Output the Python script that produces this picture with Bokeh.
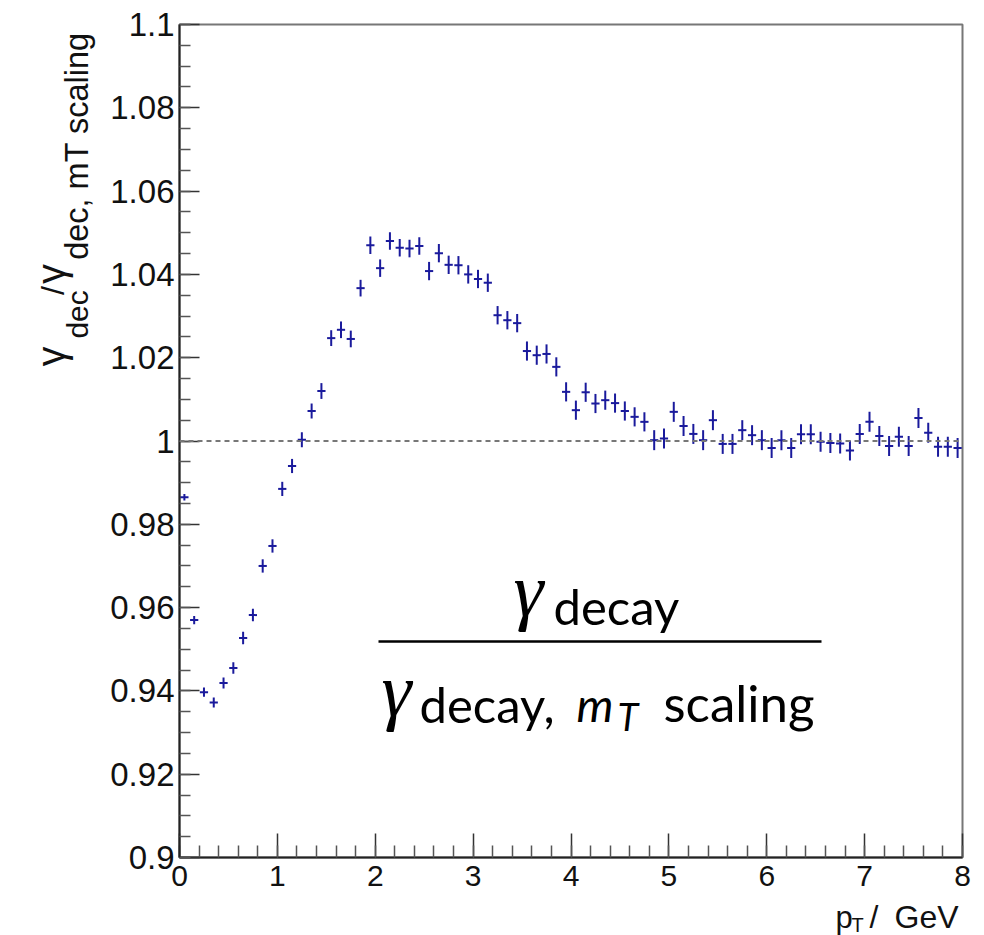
import numpy as np
from bokeh.plotting import figure
from bokeh.layouts import column, row
from bokeh.models import Range1d, FixedTicker, Span, Label
from bokeh.embed import file_html
from bokeh.resources import INLINE

# ---------------- data ----------------
pt_centers = [0.05, 0.15, 0.25, 0.35, 0.45, 0.55, 0.65, 0.75, 0.85, 0.95,
              1.05, 1.15, 1.25, 1.35, 1.45, 1.55, 1.65, 1.75, 1.85, 1.95,
              2.05, 2.15, 2.25, 2.35, 2.45, 2.55, 2.65, 2.75, 2.85, 2.95,
              3.05, 3.15, 3.25, 3.35, 3.45, 3.55, 3.65, 3.75, 3.85, 3.95,
              4.05, 4.15, 4.25, 4.35, 4.45, 4.55, 4.65, 4.75, 4.85, 4.95,
              5.05, 5.15, 5.25, 5.35, 5.45, 5.55, 5.65, 5.75, 5.85, 5.95,
              6.05, 6.15, 6.25, 6.35, 6.45, 6.55, 6.65, 6.75, 6.85, 6.95,
              7.05, 7.15, 7.25, 7.35, 7.45, 7.55, 7.65, 7.75, 7.85, 7.95]
ratio = [0.9865, 0.9570, 0.9397, 0.9372, 0.9419, 0.9455, 0.9527, 0.9582, 0.9700, 0.9748,
         0.9885, 0.9940, 1.0003, 1.0072, 1.0120, 1.0247, 1.0267, 1.0245, 1.0367, 1.0470,
         1.0415, 1.0480, 1.0464, 1.0462, 1.0468, 1.0408, 1.0451, 1.0423, 1.0422, 1.0400,
         1.0389, 1.0380, 1.0302, 1.0290, 1.0283, 1.0216, 1.0206, 1.0209, 1.0178, 1.0118,
         1.0074, 1.0117, 1.0090, 1.0098, 1.0091, 1.0072, 1.0058, 1.0046, 1.0002, 1.0006,
         1.0070, 1.0036, 1.0017, 1.0002, 1.0050, 0.9993, 0.9993, 1.0026, 1.0014, 1.0002,
         0.9983, 1.0002, 0.9983, 1.0016, 1.0016, 0.9998, 0.9995, 0.9994, 0.9977, 1.0017,
         1.0046, 1.0012, 0.9988, 1.0010, 0.9988, 1.0055, 1.0020, 0.9986, 0.9986, 0.9983]
ratio_err = [0.0008, 0.0010, 0.0011, 0.0012, 0.0013, 0.0014, 0.0015, 0.0015, 0.0016, 0.0016,
             0.0017, 0.0017, 0.0018, 0.0018, 0.0019, 0.0019, 0.0020, 0.0020, 0.0020, 0.0021,
             0.0021, 0.0021, 0.0021, 0.0021, 0.0021, 0.0022, 0.0022, 0.0022, 0.0022, 0.0022,
             0.0022, 0.0022, 0.0022, 0.0022, 0.0022, 0.0023, 0.0023, 0.0023, 0.0023, 0.0023,
             0.0023, 0.0023, 0.0023, 0.0023, 0.0023, 0.0023, 0.0023, 0.0023, 0.0024, 0.0024,
             0.0024, 0.0024, 0.0024, 0.0024, 0.0024, 0.0024, 0.0024, 0.0024, 0.0024, 0.0024,
             0.0024, 0.0024, 0.0024, 0.0024, 0.0024, 0.0024, 0.0024, 0.0024, 0.0024, 0.0024,
             0.0024, 0.0024, 0.0024, 0.0024, 0.0024, 0.0024, 0.0024, 0.0024, 0.0024, 0.0024]
bin_half_draw = 0.042
reference_level = 1.0

x_ticks = [0, 1, 2, 3, 4, 5, 6, 7, 8]
x_tick_labels = ["0", "1", "2", "3", "4", "5", "6", "7", "8"]
y_ticks = [0.9, 0.92, 0.94, 0.96, 0.98, 1.0, 1.02, 1.04, 1.06, 1.08, 1.1]
y_tick_labels = ["0.9", "0.92", "0.94", "0.96", "0.98", "1", "1.02", "1.04", "1.06", "1.08", "1.1"]

# ---------------- layout (page pixels) ----------------
PAGE_W, PAGE_H = 984, 935
LEFT_W = 100                 # strip holding the y-axis title
MAIN_H = 899                 # main figure height; below it the x-title strip
FL, FR, FT, FB = 179, 962, 24, 857   # frame edges on the page
X_MIN, X_MAX, Y_MIN, Y_MAX = 0.0, 8.0, 0.9, 1.1

def dx(px):
    return X_MIN + (px - FL) * (X_MAX - X_MIN) / (FR - FL)

def dy(py):
    return Y_MIN + (FB - py) * (Y_MAX - Y_MIN) / (FB - FT)

# half of (ascent - descent) in em: shift from baseline to a middle anchor
MID = {"Liberation Sans": 0.3465, "Lato": 0.387, "Liberation Serif": 0.3375}

p = figure(width=PAGE_W - LEFT_W, height=MAIN_H, output_backend="svg",
           toolbar_location=None,
           x_range=Range1d(X_MIN, X_MAX), y_range=Range1d(Y_MIN, Y_MAX),
           min_border_left=FL - LEFT_W, min_border_right=PAGE_W - FR,
           min_border_top=FT, min_border_bottom=MAIN_H - FB)
p.background_fill_color = "white"
p.border_fill_color = "white"
p.grid.visible = False
p.outline_line_color = "#777777"
p.outline_line_width = 2

TICK_FONT = "Liberation Sans"
for ax in (p.xaxis[0], p.yaxis[0]):
    ax.axis_line_color = "#222222"
    ax.axis_line_width = 2
    ax.major_tick_line_color = "#333333"
    ax.minor_tick_line_color = "#555555"
    ax.major_tick_line_width = 1.5
    ax.minor_tick_line_width = 1.5
    ax.major_tick_out = 0
    ax.minor_tick_out = 0
    ax.major_label_text_font = TICK_FONT
    ax.major_label_text_color = "#111111"

p.xaxis.ticker = FixedTicker(ticks=x_ticks,
                             minor_ticks=[t / 5 for t in range(0, 41)])
p.xaxis.major_label_overrides = {t: l for t, l in zip(x_ticks, x_tick_labels)}
p.xaxis.major_tick_in = 24
p.xaxis.minor_tick_in = 12
p.xaxis.major_label_standoff = 8
p.xaxis.major_label_text_font_size = "30px"

p.yaxis.ticker = FixedTicker(ticks=y_ticks,
                             minor_ticks=[0.9 + k * 0.005 for k in range(41)])
p.yaxis.major_label_overrides = {t: l for t, l in zip(y_ticks, y_tick_labels)}
p.yaxis.major_tick_in = 20
p.yaxis.minor_tick_in = 11
p.yaxis.major_label_standoff = 5
p.yaxis.major_label_text_font_size = "33px"

# reference line
p.add_layout(Span(location=reference_level, dimension="width",
                  line_color="#777777", line_width=1.8, line_dash="5 4"))

# error-bar crosses
x = np.array(pt_centers)
y = np.array(ratio)
e = np.array(ratio_err)
COL = "#1a1a9c"
p.segment(x0=x, y0=y - e, x1=x, y1=y + e, line_color=COL, line_width=2)
p.segment(x0=x - bin_half_draw, y0=y, x1=x + bin_half_draw, y1=y,
          line_color=COL, line_width=2)

# ---------------- text helpers ----------------
def hlabel(fig, txt, left_x, base_y, size, font="Liberation Sans", style="normal",
           color="#111111", xconv=None, yconv=None):
    ay_ = base_y - MID[font] * size
    xx = xconv(left_x) if xconv else left_x
    yy = yconv(ay_) if yconv else ay_
    fig.add_layout(Label(x=xx, y=yy, text=txt,
                         text_font=font, text_font_size=f"{size}px",
                         text_font_style=style,
                         text_align="left", text_baseline="middle",
                         text_color=color))

def vlabel(fig, txt, base_x, start_y, size, font="Liberation Sans"):
    """text reading upward; base_x = baseline x, start_y = lower end (page px)"""
    fig.add_layout(Label(x=base_x - MID[font] * size, y=start_y, text=txt,
                         angle=90, angle_units="deg",
                         text_font=font, text_font_size=f"{size}px",
                         text_align="left", text_baseline="middle",
                         text_color="#111111"))

# fraction annotation (inside the frame)
hlabel(p, "γ", 513, 615, 76, font="Liberation Serif", style="italic", color="black",
       xconv=dx, yconv=dy)
hlabel(p, "decay", 553, 624, 49, font="Lato", color="black", xconv=dx, yconv=dy)
p.segment(x0=[dx(378)], y0=[dy(641)], x1=[dx(821)], y1=[dy(641)],
          line_color="black", line_width=2.5)
hlabel(p, "γ", 381, 715, 76, font="Liberation Serif", style="italic", color="black",
       xconv=dx, yconv=dy)
hlabel(p, "decay,", 419, 722, 49, font="Lato", color="black", xconv=dx, yconv=dy)
hlabel(p, "m", 576, 722, 47, font="Lato", style="italic", color="black",
       xconv=dx, yconv=dy)
hlabel(p, "T", 617, 730, 38, font="Lato", style="italic", color="black",
       xconv=dx, yconv=dy)
hlabel(p, "scaling", 663, 722, 51, font="Lato", color="black", xconv=dx, yconv=dy)

# ---------------- strips for the axis titles ----------------
def strip(w, h, x0, y0):
    f = figure(width=w, height=h, output_backend="svg", toolbar_location=None,
               x_range=Range1d(x0, x0 + w), y_range=Range1d(y0 + h, y0),
               x_axis_type=None, y_axis_type=None,
               min_border_left=0, min_border_right=0,
               min_border_top=0, min_border_bottom=0)
    f.outline_line_color = None
    f.background_fill_color = "white"
    f.border_fill_color = "white"
    f.grid.visible = False
    return f

ys = strip(LEFT_W, MAIN_H, 0, 0)
vlabel(ys, "γ", 64, 369, 40)
vlabel(ys, "dec", 87, 339, 30)
vlabel(ys, "/", 64, 292, 32)
vlabel(ys, "γ", 64, 280, 40)
vlabel(ys, "dec, mT scaling", 88, 254, 32.5)

xs = strip(PAGE_W, PAGE_H - MAIN_H, 0, MAIN_H)
hlabel(xs, "p", 835, 928, 31)
hlabel(xs, "T", 851, 931, 20)
hlabel(xs, "/", 869, 928, 32)
hlabel(xs, "GeV", 894, 928, 32)

layout = column(row(ys, p), xs)
open("out.html", "w").write(file_html(layout, INLINE))
